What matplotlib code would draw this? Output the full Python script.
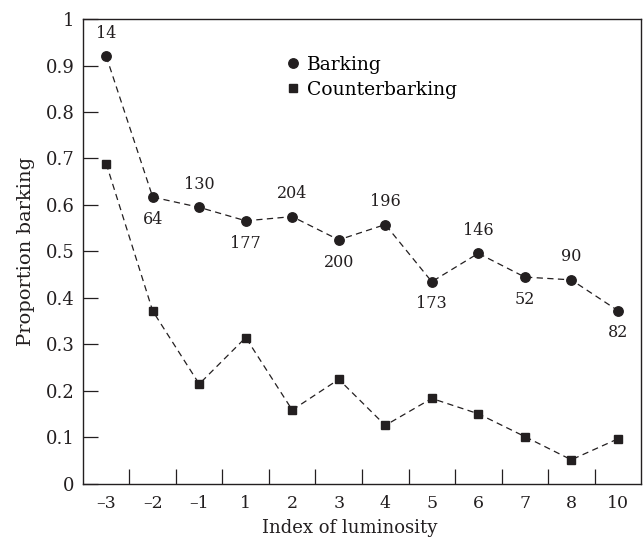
import matplotlib
matplotlib.use("Agg")
import matplotlib.pyplot as plt
from matplotlib.lines import Line2D

# luminosity index categories (evenly spaced on the axis)
luminosity = ["\u20133", "\u20132", "\u20131", "1", "2", "3", "4", "5", "6", "7", "8", "10"]
barking = [0.920, 0.617, 0.595, 0.566, 0.575, 0.525, 0.558, 0.435, 0.496, 0.445, 0.439, 0.373]
counterbarking = [0.689, 0.372, 0.215, 0.315, 0.159, 0.225, 0.126, 0.184, 0.151, 0.102, 0.052, 0.097]
sample_sizes = ["14", "64", "130", "177", "204", "200", "196", "173", "146", "52", "90", "82"]
label_above = [True, False, True, False, True, False, True, False, True, False, True, False]

ink = "#231f20"
plt.rcParams["font.family"] = ["DejaVu Serif"]

fig = plt.figure(figsize=(6.43, 5.43), dpi=100)
ax = fig.add_axes([0.129, 0.1087, 0.868, 0.8563])

x = list(range(len(luminosity)))
ax.plot(x, barking, color=ink, lw=0.9, ls=(0, (5, 3.5)), marker="o", ms=6.8,
        mfc=ink, mec=ink)
ax.plot(x, counterbarking, color=ink, lw=0.9, ls=(0, (5, 3.5)), marker="s", ms=5.6,
        mfc=ink, mec=ink)

for xi, yi, lab, up in zip(x, barking, sample_sizes, label_above):
    ax.annotate(lab, (xi, yi), xytext=(0, 16.5 if up else -16), textcoords="offset points",
                ha="center", va="center", fontsize=11.5, color=ink)

ax.set_xlim(-0.5, len(luminosity) - 0.5)
ax.set_ylim(0, 1)
ax.set_xticks(x)
ax.set_xticklabels(luminosity)
ax.set_xticks([i + 0.5 for i in x[:-1]], minor=True)
ax.tick_params(axis="x", which="major", length=0, pad=8, labelsize=12.5, colors=ink)
ax.tick_params(axis="x", which="minor", direction="in", length=11, width=0.9, color=ink)
yt = [i / 10 for i in range(11)]
ax.set_yticks(yt)
ax.set_yticklabels(["0"] + [f"{v:.1f}" for v in yt[1:-1]] + ["1"])
ax.tick_params(axis="y", direction="in", length=11, width=0.9, pad=6, labelsize=13,
               colors=ink)
for s in ax.spines.values():
    s.set_color(ink)
    s.set_linewidth(1.0)

ax.set_xlabel("Index of luminosity", fontsize=13, color=ink, labelpad=5)
ax.xaxis.label.set_x(0.478)
ax.set_ylabel("Proportion barking", fontsize=14, color=ink, labelpad=8)

handles = [Line2D([], [], ls="none", marker="o", ms=6.8, color=ink),
           Line2D([], [], ls="none", marker="s", ms=5.6, color=ink)]
ax.legend(handles, ["Barking", "Counterbarking"], loc="upper left",
          bbox_to_anchor=(0.35, 0.937), frameon=False, fontsize=13.5,
          handlelength=0.8, handletextpad=0.35, labelspacing=0.38, borderaxespad=0)

fig.savefig("out.png", dpi=100)
